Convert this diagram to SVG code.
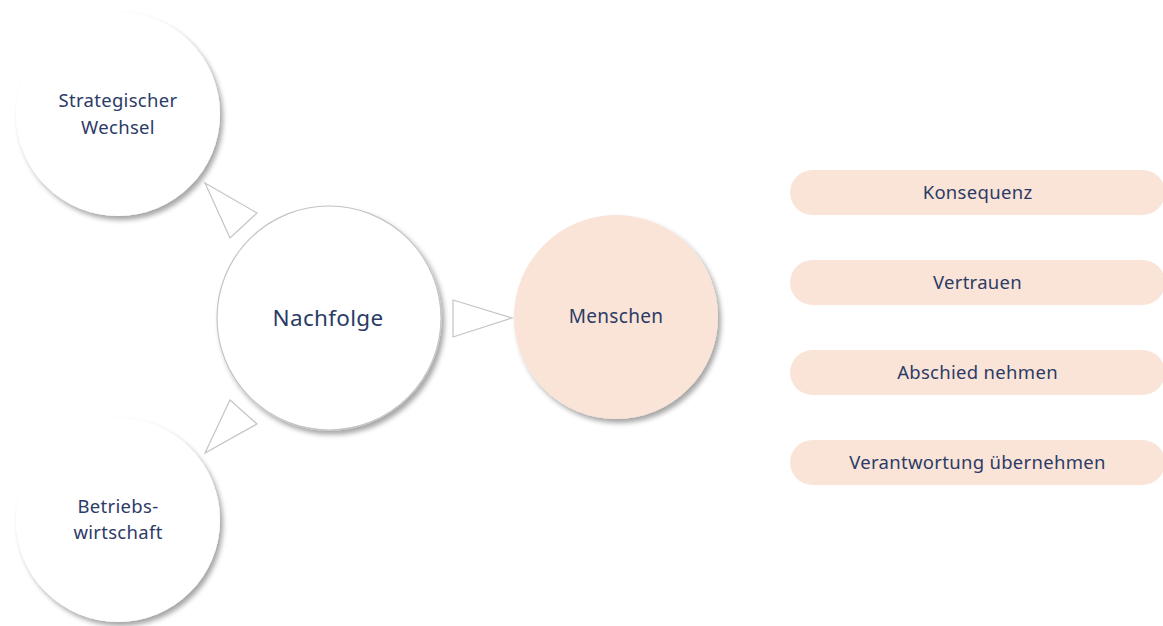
<svg xmlns="http://www.w3.org/2000/svg" width="1163" height="626" viewBox="0 0 1163 626">
<defs>
<filter id="sh" x="-20%" y="-20%" width="150%" height="150%">
<feDropShadow dx="3" dy="4" stdDeviation="2.5" flood-color="#000" flood-opacity="0.35"/>
</filter>
<style>
.w{fill:#fff;filter:url(#sh)}
.n{fill:#fff;stroke:#c4c4c4;stroke-width:1.2;filter:url(#sh)}
.p{fill:#FAE4D7}
.t{font-family:"Noto Sans",Lato,sans-serif;fill:#2C3B66;text-anchor:middle;letter-spacing:0.3px}
.c{fill:none;stroke:#c4c4c4;stroke-width:1.2;stroke-linejoin:miter}
</style>
</defs>
<rect width="1163" height="626" fill="#fff"/>
<g id="connectors">
<polygon class="c" points="205,183 257,213 230,238"/>
<polygon class="c" points="230,400 257,424 205,453"/>
<polygon class="c" points="453,300 512,318 453,337"/>
</g>
<g id="strategischer-wechsel">
<circle class="w" cx="118" cy="114" r="102"/>
<text class="t" x="118" y="107" font-size="18.5">Strategischer</text>
<text class="t" x="118" y="134" font-size="18.5">Wechsel</text>
</g>
<g id="betriebswirtschaft">
<circle class="w" cx="118" cy="520" r="102"/>
<text class="t" x="118" y="513" font-size="18.5">Betriebs-</text>
<text class="t" x="118" y="539" font-size="18.5">wirtschaft</text>
</g>
<g id="nachfolge">
<circle class="n" cx="329" cy="318" r="112"/>
<text class="t" x="328" y="326" font-size="22.5">Nachfolge</text>
</g>
<g id="menschen">
<circle class="p" cx="616" cy="317" r="102" filter="url(#sh)"/>
<text class="t" x="616" y="323" font-size="19">Menschen</text>
</g>
<g id="konsequenz">
<rect class="p" x="790" y="170" width="375" height="45" rx="22.5"/>
<text class="t" x="977.5" y="199" font-size="18.5">Konsequenz</text>
</g>
<g id="vertrauen">
<rect class="p" x="790" y="260" width="375" height="45" rx="22.5"/>
<text class="t" x="977.5" y="289" font-size="18.5">Vertrauen</text>
</g>
<g id="abschied-nehmen">
<rect class="p" x="790" y="350" width="375" height="45" rx="22.5"/>
<text class="t" x="977.5" y="379" font-size="18.5">Abschied nehmen</text>
</g>
<g id="verantwortung">
<rect class="p" x="790" y="440" width="375" height="45" rx="22.5"/>
<text class="t" x="977.5" y="469" font-size="18.5">Verantwortung übernehmen</text>
</g>
</svg>
